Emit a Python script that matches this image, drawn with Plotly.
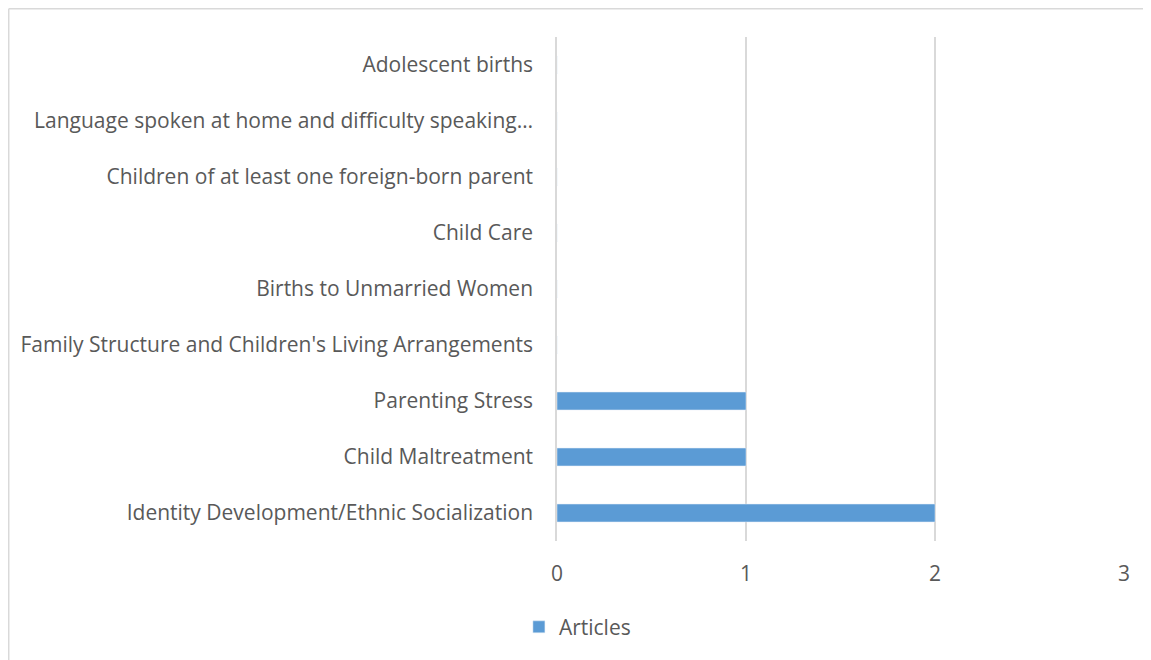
import plotly.graph_objects as go

# categories listed bottom to top (as drawn)
categories = [
    "Identity Development/Ethnic Socialization",
    "Child Maltreatment",
    "Parenting Stress",
    "Family Structure and Children's Living Arrangements",
    "Births to Unmarried Women",
    "Child Care",
    "Children of at least one foreign-born parent",
    "Language spoken at home and difficulty speaking…",
    "Adolescent births",
]
articles = [2, 1, 1, 0, 0, 0, 0, 0, 0]
x_ticks = [0, 1, 2, 3]

text_color = "#595959"
grid_color = "#d9d9d9"
bar_color = "#5b9bd5"

fig = go.Figure(go.Bar(
    x=articles,
    y=categories,
    orientation="h",
    name="Articles",
    marker_color=bar_color,
    showlegend=True,
))

# chart frame: only the left and top edges are visible in the picture
frame = dict(color="#d9d9d9", width=1.5)

# page body has an 8px margin, so the figure is 8px smaller than the window
fig.update_layout(
    width=1143,
    height=652,
    paper_bgcolor="white",
    plot_bgcolor="white",
    margin=dict(l=549, r=27, t=29, b=119),
    bargap=0.68,
    font=dict(family="Open Sans, Liberation Sans, sans-serif", size=21, color=text_color),
    legend=dict(
        orientation="h",
        x=0.036, xanchor="center",
        y=-0.171, yanchor="middle",
        font=dict(size=21, color=text_color),
        itemwidth=30,
    ),
    shapes=[
        dict(type="line", xref="paper", yref="paper",
             x0=-0.967, x1=-0.967, y0=-0.3, y1=1.056, line=frame),
        dict(type="line", xref="paper", yref="paper",
             x0=-0.967, x1=1.2, y0=1.056, y1=1.056, line=frame),
    ],
)

fig.update_xaxes(
    range=[0, 3],
    tickvals=x_ticks,
    showgrid=True,
    gridcolor=grid_color,
    gridwidth=1.5,
    zeroline=False,
    showline=False,
    ticks="",
    ticklabelstandoff=18,
    tickfont=dict(size=21, color=text_color),
)
fig.update_yaxes(
    categoryorder="array",
    categoryarray=categories,
    showgrid=False,
    zeroline=False,
    showline=True,
    linecolor=grid_color,
    linewidth=1.5,
    ticks="",
    ticklabelstandoff=18,
    tickfont=dict(size=21, color=text_color),
)

fig.write_html("out.html")
